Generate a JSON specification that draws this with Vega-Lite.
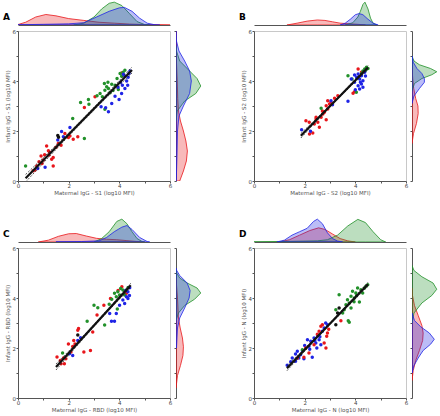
{
"$schema": "https://vega.github.io/schema/vega-lite/v6.json",
"padding": {"left": 3, "top": 1, "right": 0, "bottom": 0},
"autosize": {"type": "pad"},
"datasets": {
"pts": [
{"p":"A","g":"red","x":0.67,"y":0.44},{"p":"A","g":"red","x":0.74,"y":0.60},{"p":"A","g":"red","x":0.83,"y":0.77},{"p":"A","g":"red","x":0.91,"y":1.00},{"p":"A","g":"red","x":1.00,"y":0.84},{"p":"A","g":"red","x":1.13,"y":1.40},{"p":"A","g":"red","x":1.20,"y":1.21},{"p":"A","g":"red","x":1.22,"y":1.04},{"p":"A","g":"red","x":1.33,"y":0.87},{"p":"A","g":"red","x":1.39,"y":0.94},{"p":"A","g":"red","x":1.39,"y":0.60},{"p":"A","g":"red","x":1.59,"y":1.50},{"p":"A","g":"red","x":1.70,"y":1.43},{"p":"A","g":"red","x":1.99,"y":1.74},{"p":"A","g":"red","x":2.18,"y":1.67},{"p":"A","g":"red","x":2.36,"y":1.77},{"p":"A","g":"red","x":2.62,"y":2.94},{"p":"A","g":"red","x":3.04,"y":3.37},{"p":"A","g":"red","x":4.09,"y":4.32},{"p":"A","g":"red","x":0.60,"y":0.41},{"p":"A","g":"red","x":0.95,"y":0.70},{"p":"A","g":"red","x":1.05,"y":1.05},{"p":"A","g":"red","x":1.50,"y":1.35},{"p":"A","g":"red","x":1.85,"y":1.90},{"p":"A","g":"red","x":2.05,"y":1.80},{"p":"A","g":"red","x":1.25,"y":1.15},
{"p":"A","g":"green","x":0.30,"y":0.60},{"p":"A","g":"green","x":2.16,"y":2.50},{"p":"A","g":"green","x":2.62,"y":1.70},{"p":"A","g":"green","x":2.47,"y":3.14},{"p":"A","g":"green","x":2.78,"y":3.26},{"p":"A","g":"green","x":2.80,"y":3.07},{"p":"A","g":"green","x":3.12,"y":3.41},{"p":"A","g":"green","x":3.41,"y":3.90},{"p":"A","g":"green","x":3.50,"y":3.77},{"p":"A","g":"green","x":3.43,"y":3.63},{"p":"A","g":"green","x":3.57,"y":3.70},{"p":"A","g":"green","x":3.70,"y":3.87},{"p":"A","g":"green","x":3.83,"y":3.83},{"p":"A","g":"green","x":3.63,"y":3.53},{"p":"A","g":"green","x":3.24,"y":3.50},{"p":"A","g":"green","x":3.43,"y":2.87},{"p":"A","g":"green","x":3.91,"y":4.10},{"p":"A","g":"green","x":4.03,"y":4.30},{"p":"A","g":"green","x":4.22,"y":4.43},{"p":"A","g":"green","x":4.09,"y":4.19},{"p":"A","g":"green","x":3.33,"y":3.37},{"p":"A","g":"green","x":3.96,"y":3.66},{"p":"A","g":"green","x":3.55,"y":3.95},{"p":"A","g":"green","x":3.75,"y":3.62},{"p":"A","g":"green","x":4.15,"y":4.35},
{"p":"A","g":"blue","x":0.78,"y":0.50},{"p":"A","g":"blue","x":1.07,"y":0.55},{"p":"A","g":"blue","x":1.72,"y":1.98},{"p":"A","g":"blue","x":1.57,"y":1.64},{"p":"A","g":"blue","x":1.79,"y":1.77},{"p":"A","g":"blue","x":2.05,"y":2.14},{"p":"A","g":"blue","x":3.28,"y":2.97},{"p":"A","g":"blue","x":3.46,"y":2.93},{"p":"A","g":"blue","x":3.57,"y":2.77},{"p":"A","g":"blue","x":3.70,"y":3.10},{"p":"A","g":"blue","x":3.83,"y":3.39},{"p":"A","g":"blue","x":3.99,"y":3.26},{"p":"A","g":"blue","x":4.09,"y":3.50},{"p":"A","g":"blue","x":4.22,"y":3.70},{"p":"A","g":"blue","x":4.33,"y":3.83},{"p":"A","g":"blue","x":4.12,"y":3.83},{"p":"A","g":"blue","x":4.29,"y":4.00},{"p":"A","g":"blue","x":4.22,"y":4.19},{"p":"A","g":"blue","x":4.38,"y":4.30},{"p":"A","g":"blue","x":4.42,"y":4.40},{"p":"A","g":"blue","x":4.16,"y":4.27},{"p":"A","g":"blue","x":4.05,"y":3.95},{"p":"A","g":"blue","x":4.35,"y":4.15},{"p":"A","g":"blue","x":3.95,"y":3.75},
{"p":"A","g":"black","x":1.57,"y":1.82},{"p":"A","g":"black","x":1.60,"y":1.75},
{"p":"B","g":"red","x":2.05,"y":2.41},{"p":"B","g":"red","x":2.18,"y":2.35},{"p":"B","g":"red","x":2.32,"y":1.92},{"p":"B","g":"red","x":2.38,"y":2.28},{"p":"B","g":"red","x":2.45,"y":2.48},{"p":"B","g":"red","x":2.52,"y":2.35},{"p":"B","g":"red","x":2.58,"y":2.15},{"p":"B","g":"red","x":2.65,"y":2.55},{"p":"B","g":"red","x":2.72,"y":2.68},{"p":"B","g":"red","x":2.78,"y":2.75},{"p":"B","g":"red","x":2.85,"y":2.45},{"p":"B","g":"red","x":2.91,"y":2.88},{"p":"B","g":"red","x":2.91,"y":3.21},{"p":"B","g":"red","x":2.98,"y":3.08},{"p":"B","g":"red","x":2.85,"y":3.01},{"p":"B","g":"red","x":3.04,"y":3.15},{"p":"B","g":"red","x":3.18,"y":3.31},{"p":"B","g":"red","x":3.91,"y":3.51},{"p":"B","g":"red","x":3.97,"y":3.57},{"p":"B","g":"red","x":4.11,"y":4.48},{"p":"B","g":"red","x":4.24,"y":4.35},{"p":"B","g":"red","x":3.31,"y":3.41},{"p":"B","g":"red","x":2.19,"y":1.88},{"p":"B","g":"red","x":2.45,"y":2.55},{"p":"B","g":"red","x":2.70,"y":2.80},
{"p":"B","g":"green","x":3.71,"y":4.21},{"p":"B","g":"green","x":3.87,"y":4.08},{"p":"B","g":"green","x":4.04,"y":3.55},{"p":"B","g":"green","x":4.30,"y":4.40},{"p":"B","g":"green","x":4.37,"y":4.48},{"p":"B","g":"green","x":4.44,"y":4.55},{"p":"B","g":"green","x":2.65,"y":2.91},{"p":"B","g":"green","x":4.50,"y":4.50},{"p":"B","g":"green","x":4.25,"y":4.30},{"p":"B","g":"green","x":4.40,"y":4.42},
{"p":"B","g":"blue","x":3.97,"y":4.24},{"p":"B","g":"blue","x":4.05,"y":4.15},{"p":"B","g":"blue","x":4.11,"y":4.28},{"p":"B","g":"blue","x":4.17,"y":4.08},{"p":"B","g":"blue","x":4.24,"y":4.21},{"p":"B","g":"blue","x":4.30,"y":4.01},{"p":"B","g":"blue","x":3.97,"y":3.95},{"p":"B","g":"blue","x":4.11,"y":3.81},{"p":"B","g":"blue","x":4.24,"y":3.88},{"p":"B","g":"blue","x":4.30,"y":3.75},{"p":"B","g":"blue","x":4.17,"y":3.68},{"p":"B","g":"blue","x":4.37,"y":4.35},{"p":"B","g":"blue","x":3.84,"y":4.08},{"p":"B","g":"blue","x":3.71,"y":3.19},{"p":"B","g":"blue","x":3.04,"y":3.21},{"p":"B","g":"blue","x":1.88,"y":2.05},{"p":"B","g":"blue","x":2.23,"y":1.99},{"p":"B","g":"blue","x":4.40,"y":4.20},{"p":"B","g":"blue","x":4.00,"y":3.65},{"p":"B","g":"blue","x":3.10,"y":3.05},{"p":"B","g":"blue","x":4.20,"y":3.95},
{"p":"C","g":"red","x":1.54,"y":1.64},{"p":"C","g":"red","x":1.67,"y":1.50},{"p":"C","g":"red","x":1.83,"y":1.37},{"p":"C","g":"red","x":1.89,"y":1.57},{"p":"C","g":"red","x":1.99,"y":2.16},{"p":"C","g":"red","x":2.09,"y":1.84},{"p":"C","g":"red","x":2.16,"y":2.06},{"p":"C","g":"red","x":2.25,"y":2.16},{"p":"C","g":"red","x":2.36,"y":2.71},{"p":"C","g":"red","x":2.39,"y":2.78},{"p":"C","g":"red","x":2.60,"y":1.84},{"p":"C","g":"red","x":2.86,"y":1.90},{"p":"C","g":"red","x":2.95,"y":2.64},{"p":"C","g":"red","x":3.12,"y":3.32},{"p":"C","g":"red","x":3.39,"y":3.71},{"p":"C","g":"red","x":3.65,"y":3.98},{"p":"C","g":"red","x":4.10,"y":4.45},{"p":"C","g":"red","x":4.28,"y":4.19},{"p":"C","g":"red","x":1.70,"y":1.37},{"p":"C","g":"red","x":1.80,"y":1.60},{"p":"C","g":"red","x":2.20,"y":2.30},{"p":"C","g":"red","x":3.95,"y":4.30},
{"p":"C","g":"green","x":1.76,"y":1.80},{"p":"C","g":"green","x":2.73,"y":3.07},{"p":"C","g":"green","x":3.00,"y":3.71},{"p":"C","g":"green","x":3.15,"y":3.61},{"p":"C","g":"green","x":3.42,"y":2.92},{"p":"C","g":"green","x":3.81,"y":4.19},{"p":"C","g":"green","x":3.94,"y":4.25},{"p":"C","g":"green","x":3.88,"y":4.05},{"p":"C","g":"green","x":4.01,"y":4.12},{"p":"C","g":"green","x":4.14,"y":4.32},{"p":"C","g":"green","x":4.21,"y":4.12},{"p":"C","g":"green","x":4.34,"y":4.41},{"p":"C","g":"green","x":3.92,"y":3.56},{"p":"C","g":"green","x":3.70,"y":3.95},{"p":"C","g":"green","x":4.05,"y":4.38},{"p":"C","g":"green","x":3.60,"y":3.75},
{"p":"C","g":"blue","x":2.16,"y":1.70},{"p":"C","g":"blue","x":2.03,"y":1.77},{"p":"C","g":"blue","x":2.36,"y":2.30},{"p":"C","g":"blue","x":2.47,"y":2.41},{"p":"C","g":"blue","x":3.62,"y":3.38},{"p":"C","g":"blue","x":3.69,"y":3.07},{"p":"C","g":"blue","x":3.81,"y":3.07},{"p":"C","g":"blue","x":3.88,"y":3.38},{"p":"C","g":"blue","x":4.01,"y":3.71},{"p":"C","g":"blue","x":4.14,"y":3.92},{"p":"C","g":"blue","x":4.21,"y":3.78},{"p":"C","g":"blue","x":4.28,"y":4.05},{"p":"C","g":"blue","x":4.34,"y":4.25},{"p":"C","g":"blue","x":4.41,"y":4.41},{"p":"C","g":"blue","x":4.34,"y":3.98},{"p":"C","g":"blue","x":4.25,"y":4.30},{"p":"C","g":"blue","x":4.40,"y":4.10},
{"p":"C","g":"black","x":2.36,"y":2.52},
{"p":"D","g":"blue","x":1.31,"y":1.31},{"p":"D","g":"blue","x":1.51,"y":1.60},{"p":"D","g":"blue","x":1.64,"y":1.76},{"p":"D","g":"blue","x":1.71,"y":1.87},{"p":"D","g":"blue","x":1.77,"y":1.60},{"p":"D","g":"blue","x":1.84,"y":1.73},{"p":"D","g":"blue","x":1.91,"y":1.89},{"p":"D","g":"blue","x":1.97,"y":1.57},{"p":"D","g":"blue","x":2.11,"y":2.33},{"p":"D","g":"blue","x":2.17,"y":2.07},{"p":"D","g":"blue","x":2.24,"y":2.27},{"p":"D","g":"blue","x":2.30,"y":1.63},{"p":"D","g":"blue","x":2.37,"y":2.40},{"p":"D","g":"blue","x":2.44,"y":2.20},{"p":"D","g":"blue","x":2.48,"y":2.00},{"p":"D","g":"blue","x":2.51,"y":2.51},{"p":"D","g":"blue","x":2.57,"y":2.33},{"p":"D","g":"blue","x":2.64,"y":2.13},{"p":"D","g":"blue","x":2.70,"y":2.67},{"p":"D","g":"blue","x":2.77,"y":2.80},{"p":"D","g":"blue","x":2.83,"y":3.00},{"p":"D","g":"blue","x":2.90,"y":2.93},{"p":"D","g":"blue","x":1.64,"y":1.47},{"p":"D","g":"blue","x":2.00,"y":2.10},{"p":"D","g":"blue","x":2.40,"y":2.30},{"p":"D","g":"blue","x":2.60,"y":2.45},{"p":"D","g":"blue","x":1.45,"y":1.45},{"p":"D","g":"blue","x":2.20,"y":1.95},
{"p":"D","g":"red","x":1.71,"y":1.60},{"p":"D","g":"red","x":1.97,"y":1.63},{"p":"D","g":"red","x":2.04,"y":2.00},{"p":"D","g":"red","x":2.17,"y":1.80},{"p":"D","g":"red","x":2.37,"y":2.13},{"p":"D","g":"red","x":2.57,"y":2.67},{"p":"D","g":"red","x":2.64,"y":2.87},{"p":"D","g":"red","x":2.77,"y":2.20},{"p":"D","g":"red","x":2.87,"y":2.47},{"p":"D","g":"red","x":2.90,"y":2.60},{"p":"D","g":"red","x":2.70,"y":2.93},{"p":"D","g":"red","x":3.43,"y":3.09},{"p":"D","g":"red","x":2.84,"y":2.00},{"p":"D","g":"red","x":2.50,"y":2.55},{"p":"D","g":"red","x":2.95,"y":2.75},
{"p":"D","g":"green","x":1.91,"y":1.93},{"p":"D","g":"green","x":3.23,"y":3.53},{"p":"D","g":"green","x":3.36,"y":4.13},{"p":"D","g":"green","x":3.50,"y":3.40},{"p":"D","g":"green","x":3.72,"y":3.09},{"p":"D","g":"green","x":3.76,"y":3.03},{"p":"D","g":"green","x":3.63,"y":3.73},{"p":"D","g":"green","x":3.69,"y":3.93},{"p":"D","g":"green","x":3.76,"y":3.80},{"p":"D","g":"green","x":3.83,"y":4.07},{"p":"D","g":"green","x":3.89,"y":4.27},{"p":"D","g":"green","x":3.96,"y":4.00},{"p":"D","g":"green","x":4.02,"y":4.20},{"p":"D","g":"green","x":4.09,"y":4.40},{"p":"D","g":"green","x":4.16,"y":3.84},{"p":"D","g":"green","x":4.22,"y":4.33},{"p":"D","g":"green","x":4.29,"y":4.20},{"p":"D","g":"green","x":4.36,"y":4.40},{"p":"D","g":"green","x":4.42,"y":4.47},{"p":"D","g":"green","x":4.49,"y":4.53},{"p":"D","g":"green","x":3.56,"y":3.53},{"p":"D","g":"green","x":3.83,"y":3.60},{"p":"D","g":"green","x":4.05,"y":4.10},{"p":"D","g":"green","x":3.95,"y":3.85},
{"p":"D","g":"black","x":3.36,"y":3.60},{"p":"D","g":"black","x":3.23,"y":2.93},{"p":"D","g":"black","x":3.30,"y":3.40}
],
"fit": [
{"p":"A","k":"f","x":0.3,"y":0.11},{"p":"A","k":"f","x":4.5,"y":4.44},
{"p":"A","k":"lo","x":0.3,"y":-0.04},{"p":"A","k":"lo","x":1.3,"y":1.05},{"p":"A","k":"lo","x":2.4,"y":2.22},{"p":"A","k":"lo","x":3.5,"y":3.34},{"p":"A","k":"lo","x":4.5,"y":4.32},
{"p":"A","k":"hi","x":0.3,"y":0.26},{"p":"A","k":"hi","x":1.3,"y":1.23},{"p":"A","k":"hi","x":2.4,"y":2.32},{"p":"A","k":"hi","x":3.5,"y":3.48},{"p":"A","k":"hi","x":4.5,"y":4.56},
{"p":"B","k":"f","x":1.85,"y":1.81},{"p":"B","k":"f","x":4.5,"y":4.54},
{"p":"B","k":"lo","x":1.85,"y":1.72},{"p":"B","k":"lo","x":2.5,"y":2.43},{"p":"B","k":"lo","x":3.2,"y":3.17},{"p":"B","k":"lo","x":3.9,"y":3.87},{"p":"B","k":"lo","x":4.5,"y":4.46},
{"p":"B","k":"hi","x":1.85,"y":1.90},{"p":"B","k":"hi","x":2.5,"y":2.53},{"p":"B","k":"hi","x":3.2,"y":3.23},{"p":"B","k":"hi","x":3.9,"y":3.97},{"p":"B","k":"hi","x":4.5,"y":4.62},
{"p":"C","k":"f","x":1.5,"y":1.24},{"p":"C","k":"f","x":4.45,"y":4.51},
{"p":"C","k":"lo","x":1.5,"y":1.12},{"p":"C","k":"lo","x":2.2,"y":1.94},{"p":"C","k":"lo","x":3.0,"y":2.86},{"p":"C","k":"lo","x":3.7,"y":3.63},{"p":"C","k":"lo","x":4.45,"y":4.43},
{"p":"C","k":"hi","x":1.5,"y":1.36},{"p":"C","k":"hi","x":2.2,"y":2.08},{"p":"C","k":"hi","x":3.0,"y":2.94},{"p":"C","k":"hi","x":3.7,"y":3.73},{"p":"C","k":"hi","x":4.45,"y":4.59},
{"p":"D","k":"f","x":1.3,"y":1.19},{"p":"D","k":"f","x":4.5,"y":4.55},
{"p":"D","k":"lo","x":1.3,"y":1.09},{"p":"D","k":"lo","x":2.1,"y":1.98},{"p":"D","k":"lo","x":2.9,"y":2.84},{"p":"D","k":"lo","x":3.7,"y":3.66},{"p":"D","k":"lo","x":4.5,"y":4.47},
{"p":"D","k":"hi","x":1.3,"y":1.29},{"p":"D","k":"hi","x":2.1,"y":2.08},{"p":"D","k":"hi","x":2.9,"y":2.90},{"p":"D","k":"hi","x":3.7,"y":3.76},{"p":"D","k":"hi","x":4.5,"y":4.63}
],
"dens": [
{"p":"A","m":"t","g":"red","v":0,"d":0.02},{"p":"A","m":"t","g":"red","v":0.3,"d":0.12},{"p":"A","m":"t","g":"red","v":0.7,"d":0.35},{"p":"A","m":"t","g":"red","v":1.1,"d":0.46},{"p":"A","m":"t","g":"red","v":1.5,"d":0.40},{"p":"A","m":"t","g":"red","v":2.0,"d":0.28},{"p":"A","m":"t","g":"red","v":2.6,"d":0.20},{"p":"A","m":"t","g":"red","v":3.2,"d":0.12},{"p":"A","m":"t","g":"red","v":3.8,"d":0.08},{"p":"A","m":"t","g":"red","v":4.4,"d":0.04},{"p":"A","m":"t","g":"red","v":5.0,"d":0.02},{"p":"A","m":"t","g":"red","v":5.6,"d":0.01},{"p":"A","m":"t","g":"red","v":6,"d":0},
{"p":"A","m":"t","g":"green","v":2.2,"d":0},{"p":"A","m":"t","g":"green","v":2.6,"d":0.08},{"p":"A","m":"t","g":"green","v":3.0,"d":0.35},{"p":"A","m":"t","g":"green","v":3.3,"d":0.70},{"p":"A","m":"t","g":"green","v":3.6,"d":0.95},{"p":"A","m":"t","g":"green","v":3.8,"d":1.0},{"p":"A","m":"t","g":"green","v":4.1,"d":0.85},{"p":"A","m":"t","g":"green","v":4.4,"d":0.5},{"p":"A","m":"t","g":"green","v":4.7,"d":0.15},{"p":"A","m":"t","g":"green","v":5.0,"d":0.02},{"p":"A","m":"t","g":"green","v":5.2,"d":0},
{"p":"A","m":"t","g":"blue","v":0,"d":0.01},{"p":"A","m":"t","g":"blue","v":1,"d":0.03},{"p":"A","m":"t","g":"blue","v":2,"d":0.05},{"p":"A","m":"t","g":"blue","v":2.6,"d":0.10},{"p":"A","m":"t","g":"blue","v":3.1,"d":0.35},{"p":"A","m":"t","g":"blue","v":3.6,"d":0.6},{"p":"A","m":"t","g":"blue","v":4.0,"d":0.75},{"p":"A","m":"t","g":"blue","v":4.2,"d":0.77},{"p":"A","m":"t","g":"blue","v":4.5,"d":0.6},{"p":"A","m":"t","g":"blue","v":4.8,"d":0.3},{"p":"A","m":"t","g":"blue","v":5.1,"d":0.08},{"p":"A","m":"t","g":"blue","v":5.4,"d":0.01},{"p":"A","m":"t","g":"blue","v":5.6,"d":0},
{"p":"A","m":"r","g":"red","v":0,"d":0.15},{"p":"A","m":"r","g":"red","v":0.4,"d":0.30},{"p":"A","m":"r","g":"red","v":0.8,"d":0.42},{"p":"A","m":"r","g":"red","v":1.2,"d":0.46},{"p":"A","m":"r","g":"red","v":1.6,"d":0.40},{"p":"A","m":"r","g":"red","v":2.0,"d":0.30},{"p":"A","m":"r","g":"red","v":2.4,"d":0.18},{"p":"A","m":"r","g":"red","v":2.8,"d":0.10},{"p":"A","m":"r","g":"red","v":3.3,"d":0.07},{"p":"A","m":"r","g":"red","v":4.0,"d":0.05},{"p":"A","m":"r","g":"red","v":4.5,"d":0.03},{"p":"A","m":"r","g":"red","v":5.0,"d":0.01},{"p":"A","m":"r","g":"red","v":6,"d":0},
{"p":"A","m":"r","g":"green","v":2.4,"d":0},{"p":"A","m":"r","g":"green","v":2.8,"d":0.05},{"p":"A","m":"r","g":"green","v":3.2,"d":0.35},{"p":"A","m":"r","g":"green","v":3.5,"d":0.8},{"p":"A","m":"r","g":"green","v":3.8,"d":1.0},{"p":"A","m":"r","g":"green","v":4.1,"d":0.85},{"p":"A","m":"r","g":"green","v":4.4,"d":0.55},{"p":"A","m":"r","g":"green","v":4.8,"d":0.15},{"p":"A","m":"r","g":"green","v":5.2,"d":0.02},{"p":"A","m":"r","g":"green","v":5.4,"d":0},
{"p":"A","m":"r","g":"blue","v":0,"d":0.01},{"p":"A","m":"r","g":"blue","v":1,"d":0.04},{"p":"A","m":"r","g":"blue","v":2,"d":0.06},{"p":"A","m":"r","g":"blue","v":2.6,"d":0.12},{"p":"A","m":"r","g":"blue","v":3.0,"d":0.30},{"p":"A","m":"r","g":"blue","v":3.5,"d":0.55},{"p":"A","m":"r","g":"blue","v":4.0,"d":0.62},{"p":"A","m":"r","g":"blue","v":4.4,"d":0.55},{"p":"A","m":"r","g":"blue","v":4.8,"d":0.35},{"p":"A","m":"r","g":"blue","v":5.2,"d":0.12},{"p":"A","m":"r","g":"blue","v":5.6,"d":0.02},{"p":"A","m":"r","g":"blue","v":6,"d":0},
{"p":"B","m":"t","g":"red","v":1.3,"d":0},{"p":"B","m":"t","g":"red","v":1.7,"d":0.08},{"p":"B","m":"t","g":"red","v":2.1,"d":0.17},{"p":"B","m":"t","g":"red","v":2.5,"d":0.22},{"p":"B","m":"t","g":"red","v":2.8,"d":0.2},{"p":"B","m":"t","g":"red","v":3.1,"d":0.14},{"p":"B","m":"t","g":"red","v":3.4,"d":0.08},{"p":"B","m":"t","g":"red","v":3.8,"d":0.05},{"p":"B","m":"t","g":"red","v":4.1,"d":0.03},{"p":"B","m":"t","g":"red","v":4.4,"d":0},
{"p":"B","m":"t","g":"green","v":3.6,"d":0},{"p":"B","m":"t","g":"green","v":3.9,"d":0.1},{"p":"B","m":"t","g":"green","v":4.1,"d":0.35},{"p":"B","m":"t","g":"green","v":4.2,"d":0.6},{"p":"B","m":"t","g":"green","v":4.3,"d":0.9},{"p":"B","m":"t","g":"green","v":4.38,"d":1.0},{"p":"B","m":"t","g":"green","v":4.5,"d":0.7},{"p":"B","m":"t","g":"green","v":4.6,"d":0.3},{"p":"B","m":"t","g":"green","v":4.7,"d":0.08},{"p":"B","m":"t","g":"green","v":4.85,"d":0},
{"p":"B","m":"t","g":"blue","v":3.4,"d":0},{"p":"B","m":"t","g":"blue","v":3.6,"d":0.08},{"p":"B","m":"t","g":"blue","v":3.8,"d":0.25},{"p":"B","m":"t","g":"blue","v":4.0,"d":0.45},{"p":"B","m":"t","g":"blue","v":4.15,"d":0.5},{"p":"B","m":"t","g":"blue","v":4.3,"d":0.45},{"p":"B","m":"t","g":"blue","v":4.5,"d":0.25},{"p":"B","m":"t","g":"blue","v":4.7,"d":0.08},{"p":"B","m":"t","g":"blue","v":4.9,"d":0},
{"p":"B","m":"r","g":"red","v":1.5,"d":0},{"p":"B","m":"r","g":"red","v":1.9,"d":0.06},{"p":"B","m":"r","g":"red","v":2.3,"d":0.18},{"p":"B","m":"r","g":"red","v":2.7,"d":0.25},{"p":"B","m":"r","g":"red","v":3.0,"d":0.24},{"p":"B","m":"r","g":"red","v":3.3,"d":0.15},{"p":"B","m":"r","g":"red","v":3.7,"d":0.07},{"p":"B","m":"r","g":"red","v":4.1,"d":0.03},{"p":"B","m":"r","g":"red","v":4.5,"d":0},
{"p":"B","m":"r","g":"green","v":3.6,"d":0},{"p":"B","m":"r","g":"green","v":3.9,"d":0.1},{"p":"B","m":"r","g":"green","v":4.1,"d":0.4},{"p":"B","m":"r","g":"green","v":4.25,"d":0.8},{"p":"B","m":"r","g":"green","v":4.37,"d":1.0},{"p":"B","m":"r","g":"green","v":4.5,"d":0.75},{"p":"B","m":"r","g":"green","v":4.65,"d":0.3},{"p":"B","m":"r","g":"green","v":4.8,"d":0.08},{"p":"B","m":"r","g":"green","v":5.0,"d":0},
{"p":"B","m":"r","g":"blue","v":3.1,"d":0},{"p":"B","m":"r","g":"blue","v":3.4,"d":0.08},{"p":"B","m":"r","g":"blue","v":3.7,"d":0.3},{"p":"B","m":"r","g":"blue","v":3.95,"d":0.5},{"p":"B","m":"r","g":"blue","v":4.1,"d":0.5},{"p":"B","m":"r","g":"blue","v":4.3,"d":0.4},{"p":"B","m":"r","g":"blue","v":4.5,"d":0.2},{"p":"B","m":"r","g":"blue","v":4.75,"d":0.05},{"p":"B","m":"r","g":"blue","v":5.0,"d":0},
{"p":"C","m":"t","g":"red","v":0.8,"d":0},{"p":"C","m":"t","g":"red","v":1.2,"d":0.08},{"p":"C","m":"t","g":"red","v":1.6,"d":0.25},{"p":"C","m":"t","g":"red","v":2.0,"d":0.36},{"p":"C","m":"t","g":"red","v":2.3,"d":0.37},{"p":"C","m":"t","g":"red","v":2.7,"d":0.26},{"p":"C","m":"t","g":"red","v":3.1,"d":0.16},{"p":"C","m":"t","g":"red","v":3.5,"d":0.12},{"p":"C","m":"t","g":"red","v":3.9,"d":0.10},{"p":"C","m":"t","g":"red","v":4.3,"d":0.06},{"p":"C","m":"t","g":"red","v":4.7,"d":0.02},{"p":"C","m":"t","g":"red","v":5.0,"d":0},
{"p":"C","m":"t","g":"green","v":3.0,"d":0},{"p":"C","m":"t","g":"green","v":3.3,"d":0.15},{"p":"C","m":"t","g":"green","v":3.6,"d":0.45},{"p":"C","m":"t","g":"green","v":3.9,"d":0.9},{"p":"C","m":"t","g":"green","v":4.1,"d":1.0},{"p":"C","m":"t","g":"green","v":4.3,"d":0.8},{"p":"C","m":"t","g":"green","v":4.5,"d":0.45},{"p":"C","m":"t","g":"green","v":4.7,"d":0.15},{"p":"C","m":"t","g":"green","v":4.9,"d":0.02},{"p":"C","m":"t","g":"green","v":5.0,"d":0},
{"p":"C","m":"t","g":"blue","v":1.5,"d":0.01},{"p":"C","m":"t","g":"blue","v":2.5,"d":0.02},{"p":"C","m":"t","g":"blue","v":3.2,"d":0.05},{"p":"C","m":"t","g":"blue","v":3.5,"d":0.2},{"p":"C","m":"t","g":"blue","v":3.8,"d":0.45},{"p":"C","m":"t","g":"blue","v":4.1,"d":0.65},{"p":"C","m":"t","g":"blue","v":4.3,"d":0.72},{"p":"C","m":"t","g":"blue","v":4.5,"d":0.55},{"p":"C","m":"t","g":"blue","v":4.8,"d":0.2},{"p":"C","m":"t","g":"blue","v":5.1,"d":0.02},{"p":"C","m":"t","g":"blue","v":5.2,"d":0},
{"p":"C","m":"r","g":"red","v":0.4,"d":0},{"p":"C","m":"r","g":"red","v":0.9,"d":0.06},{"p":"C","m":"r","g":"red","v":1.3,"d":0.18},{"p":"C","m":"r","g":"red","v":1.7,"d":0.28},{"p":"C","m":"r","g":"red","v":2.05,"d":0.30},{"p":"C","m":"r","g":"red","v":2.4,"d":0.26},{"p":"C","m":"r","g":"red","v":2.8,"d":0.17},{"p":"C","m":"r","g":"red","v":3.2,"d":0.10},{"p":"C","m":"r","g":"red","v":3.6,"d":0.08},{"p":"C","m":"r","g":"red","v":4.0,"d":0.06},{"p":"C","m":"r","g":"red","v":4.4,"d":0.03},{"p":"C","m":"r","g":"red","v":4.8,"d":0},
{"p":"C","m":"r","g":"green","v":3.1,"d":0},{"p":"C","m":"r","g":"green","v":3.4,"d":0.1},{"p":"C","m":"r","g":"green","v":3.7,"d":0.35},{"p":"C","m":"r","g":"green","v":3.95,"d":0.75},{"p":"C","m":"r","g":"green","v":4.2,"d":1.0},{"p":"C","m":"r","g":"green","v":4.4,"d":0.85},{"p":"C","m":"r","g":"green","v":4.6,"d":0.45},{"p":"C","m":"r","g":"green","v":4.8,"d":0.15},{"p":"C","m":"r","g":"green","v":5.0,"d":0.03},{"p":"C","m":"r","g":"green","v":5.1,"d":0},
{"p":"C","m":"r","g":"blue","v":2.0,"d":0.02},{"p":"C","m":"r","g":"blue","v":2.8,"d":0.06},{"p":"C","m":"r","g":"blue","v":3.2,"d":0.15},{"p":"C","m":"r","g":"blue","v":3.6,"d":0.35},{"p":"C","m":"r","g":"blue","v":4.0,"d":0.53},{"p":"C","m":"r","g":"blue","v":4.3,"d":0.57},{"p":"C","m":"r","g":"blue","v":4.6,"d":0.45},{"p":"C","m":"r","g":"blue","v":4.9,"d":0.15},{"p":"C","m":"r","g":"blue","v":5.1,"d":0.03},{"p":"C","m":"r","g":"blue","v":5.2,"d":0},
{"p":"D","m":"t","g":"red","v":1.0,"d":0},{"p":"D","m":"t","g":"red","v":1.4,"d":0.1},{"p":"D","m":"t","g":"red","v":1.8,"d":0.3},{"p":"D","m":"t","g":"red","v":2.2,"d":0.5},{"p":"D","m":"t","g":"red","v":2.55,"d":0.62},{"p":"D","m":"t","g":"red","v":2.8,"d":0.55},{"p":"D","m":"t","g":"red","v":3.1,"d":0.35},{"p":"D","m":"t","g":"red","v":3.4,"d":0.15},{"p":"D","m":"t","g":"red","v":3.7,"d":0.05},{"p":"D","m":"t","g":"red","v":4.0,"d":0},
{"p":"D","m":"t","g":"green","v":0,"d":0.01},{"p":"D","m":"t","g":"green","v":1.5,"d":0.03},{"p":"D","m":"t","g":"green","v":2.5,"d":0.05},{"p":"D","m":"t","g":"green","v":2.9,"d":0.1},{"p":"D","m":"t","g":"green","v":3.3,"d":0.3},{"p":"D","m":"t","g":"green","v":3.7,"d":0.7},{"p":"D","m":"t","g":"green","v":4.1,"d":0.99},{"p":"D","m":"t","g":"green","v":4.4,"d":0.85},{"p":"D","m":"t","g":"green","v":4.7,"d":0.45},{"p":"D","m":"t","g":"green","v":5.0,"d":0.1},{"p":"D","m":"t","g":"green","v":5.2,"d":0},
{"p":"D","m":"t","g":"blue","v":0.9,"d":0},{"p":"D","m":"t","g":"blue","v":1.2,"d":0.08},{"p":"D","m":"t","g":"blue","v":1.5,"d":0.3},{"p":"D","m":"t","g":"blue","v":1.8,"d":0.45},{"p":"D","m":"t","g":"blue","v":2.1,"d":0.6},{"p":"D","m":"t","g":"blue","v":2.35,"d":0.9},{"p":"D","m":"t","g":"blue","v":2.5,"d":1.0},{"p":"D","m":"t","g":"blue","v":2.7,"d":0.8},{"p":"D","m":"t","g":"blue","v":2.9,"d":0.4},{"p":"D","m":"t","g":"blue","v":3.1,"d":0.15},{"p":"D","m":"t","g":"blue","v":3.3,"d":0.04},{"p":"D","m":"t","g":"blue","v":3.5,"d":0},
{"p":"D","m":"r","g":"red","v":0.7,"d":0},{"p":"D","m":"r","g":"red","v":1.1,"d":0.05},{"p":"D","m":"r","g":"red","v":1.5,"d":0.15},{"p":"D","m":"r","g":"red","v":1.9,"d":0.3},{"p":"D","m":"r","g":"red","v":2.3,"d":0.43},{"p":"D","m":"r","g":"red","v":2.6,"d":0.45},{"p":"D","m":"r","g":"red","v":2.9,"d":0.4},{"p":"D","m":"r","g":"red","v":3.3,"d":0.25},{"p":"D","m":"r","g":"red","v":3.7,"d":0.1},{"p":"D","m":"r","g":"red","v":4.1,"d":0.02},{"p":"D","m":"r","g":"red","v":4.4,"d":0},
{"p":"D","m":"r","g":"green","v":3.0,"d":0},{"p":"D","m":"r","g":"green","v":3.4,"d":0.08},{"p":"D","m":"r","g":"green","v":3.8,"d":0.4},{"p":"D","m":"r","g":"green","v":4.1,"d":0.8},{"p":"D","m":"r","g":"green","v":4.35,"d":1.0},{"p":"D","m":"r","g":"green","v":4.6,"d":0.85},{"p":"D","m":"r","g":"green","v":4.85,"d":0.4},{"p":"D","m":"r","g":"green","v":5.1,"d":0.08},{"p":"D","m":"r","g":"green","v":5.3,"d":0},
{"p":"D","m":"r","g":"blue","v":1.0,"d":0},{"p":"D","m":"r","g":"blue","v":1.3,"d":0.08},{"p":"D","m":"r","g":"blue","v":1.6,"d":0.25},{"p":"D","m":"r","g":"blue","v":1.9,"d":0.45},{"p":"D","m":"r","g":"blue","v":2.15,"d":0.75},{"p":"D","m":"r","g":"blue","v":2.35,"d":0.9},{"p":"D","m":"r","g":"blue","v":2.6,"d":0.7},{"p":"D","m":"r","g":"blue","v":2.85,"d":0.35},{"p":"D","m":"r","g":"blue","v":3.1,"d":0.1},{"p":"D","m":"r","g":"blue","v":3.4,"d":0}
]
},
"columns": 2,
"spacing": {"row": 21, "column": 37},
"concat": [
{"columns": 2, "align": "each", "spacing": {"row": 3, "column": 0}, "concat": [
 {"width": 152, "height": 24, "data": {"name": "dens"}, "transform": [{"filter": "datum.p === 'A' && datum.m === 't'"}],
  "title": {"text": "A", "anchor": "start", "frame": "group", "dx": -15, "dy": 21, "offset": 0, "fontSize": 9, "fontWeight": "bold", "color": "#000"},
  "mark": {"type": "area", "fillOpacity": 0.3, "strokeWidth": 0.8, "clip": true},
  "encoding": {"x": {"field": "v", "type": "quantitative", "scale": {"domain": [0, 6], "nice": false}, "axis": {"title": null, "labels": false, "ticks": false}},
   "y": {"field": "d", "type": "quantitative", "stack": null, "scale": {"domain": [0, 1.05]}, "axis": null},
   "color": {"field": "g", "type": "nominal", "scale": {"domain": ["red", "green", "blue", "black"], "range": ["#e8161b", "#22912a", "#1f24e6", "#111111"]}, "legend": null},
   "stroke": {"field": "g", "type": "nominal", "scale": {"domain": ["red", "green", "blue", "black"], "range": ["#e8161b", "#22912a", "#1f24e6", "#111111"]}, "legend": null}}},
 {"width": 26, "height": 24, "data": {"values": [{"a": 1}]}, "mark": {"type": "point", "opacity": 0}},
 {"width": 152, "height": 150, "view": {"stroke": "#c8c8c8"},
  "encoding": {"x": {"field": "x", "type": "quantitative", "scale": {"domain": [0, 6], "nice": false}, "axis": {"title": "Maternal IgG - S1 (log10 MFI)", "values": [0, 1, 2, 3, 4, 5, 6], "labelExpr": "datum.value % 2 === 0 ? datum.label : ''", "labelFlush": false}},
   "y": {"field": "y", "type": "quantitative", "scale": {"domain": [0, 6], "nice": false}, "axis": {"title": "Infant IgG - S1 (log10 MFI)", "values": [0, 1, 2, 3, 4, 5, 6], "labelExpr": "datum.value % 2 === 0 ? datum.label : ''", "labelFlush": false}}},
  "layer": [
   {"data": {"name": "pts"}, "transform": [{"filter": "datum.p === 'A'"}], "mark": {"type": "circle", "size": 12, "opacity": 1},
    "encoding": {"color": {"field": "g", "type": "nominal", "scale": {"domain": ["red", "green", "blue", "black"], "range": ["#e8161b", "#22912a", "#1f24e6", "#111111"]}, "legend": null}}},
   {"data": {"name": "fit"}, "transform": [{"filter": "datum.p === 'A' && datum.k === 'f'"}], "mark": {"type": "line", "color": "#111", "strokeWidth": 2.2, "clip": true}, "encoding": {}},
   {"data": {"name": "fit"}, "transform": [{"filter": "datum.p === 'A' && datum.k !== 'f'"}], "mark": {"type": "line", "color": "#111", "strokeWidth": 0.7, "strokeDash": [2, 1.5], "clip": true}, "encoding": {"detail": {"field": "k"}}}
  ]},
 {"width": 26, "height": 150, "data": {"name": "dens"}, "transform": [{"filter": "datum.p === 'A' && datum.m === 'r'"}],
  "mark": {"type": "area", "orient": "horizontal", "fillOpacity": 0.3, "strokeWidth": 0.8, "clip": true},
  "encoding": {"y": {"field": "v", "type": "quantitative", "scale": {"domain": [0, 6], "nice": false}, "axis": {"title": null, "labels": false, "values": [0, 1, 2, 3, 4, 5, 6]}},
   "x": {"field": "d", "type": "quantitative", "stack": null, "scale": {"domain": [0, 1.05]}, "axis": null},
   "color": {"field": "g", "type": "nominal", "scale": {"domain": ["red", "green", "blue", "black"], "range": ["#e8161b", "#22912a", "#1f24e6", "#111111"]}, "legend": null},
   "stroke": {"field": "g", "type": "nominal", "scale": {"domain": ["red", "green", "blue", "black"], "range": ["#e8161b", "#22912a", "#1f24e6", "#111111"]}, "legend": null}}}
]},
{"columns": 2, "align": "each", "spacing": {"row": 3, "column": 0}, "concat": [
 {"width": 152, "height": 24, "data": {"name": "dens"}, "transform": [{"filter": "datum.p === 'B' && datum.m === 't'"}],
  "title": {"text": "B", "anchor": "start", "frame": "group", "dx": -15, "dy": 21, "offset": 0, "fontSize": 9, "fontWeight": "bold", "color": "#000"},
  "mark": {"type": "area", "fillOpacity": 0.3, "strokeWidth": 0.8, "clip": true},
  "encoding": {"x": {"field": "v", "type": "quantitative", "scale": {"domain": [0, 6], "nice": false}, "axis": {"title": null, "labels": false, "ticks": false}},
   "y": {"field": "d", "type": "quantitative", "stack": null, "scale": {"domain": [0, 1.05]}, "axis": null},
   "color": {"field": "g", "type": "nominal", "scale": {"domain": ["red", "green", "blue", "black"], "range": ["#e8161b", "#22912a", "#1f24e6", "#111111"]}, "legend": null},
   "stroke": {"field": "g", "type": "nominal", "scale": {"domain": ["red", "green", "blue", "black"], "range": ["#e8161b", "#22912a", "#1f24e6", "#111111"]}, "legend": null}}},
 {"width": 26, "height": 24, "data": {"values": [{"a": 1}]}, "mark": {"type": "point", "opacity": 0}},
 {"width": 152, "height": 150, "view": {"stroke": "#c8c8c8"},
  "encoding": {"x": {"field": "x", "type": "quantitative", "scale": {"domain": [0, 6], "nice": false}, "axis": {"title": "Maternal IgG - S2 (log10 MFI)", "values": [0, 1, 2, 3, 4, 5, 6], "labelExpr": "datum.value % 2 === 0 ? datum.label : ''", "labelFlush": false}},
   "y": {"field": "y", "type": "quantitative", "scale": {"domain": [0, 6], "nice": false}, "axis": {"title": "Infant IgG - S2 (log10 MFI)", "values": [0, 1, 2, 3, 4, 5, 6], "labelExpr": "datum.value % 2 === 0 ? datum.label : ''", "labelFlush": false}}},
  "layer": [
   {"data": {"name": "pts"}, "transform": [{"filter": "datum.p === 'B'"}], "mark": {"type": "circle", "size": 12, "opacity": 1},
    "encoding": {"color": {"field": "g", "type": "nominal", "scale": {"domain": ["red", "green", "blue", "black"], "range": ["#e8161b", "#22912a", "#1f24e6", "#111111"]}, "legend": null}}},
   {"data": {"name": "fit"}, "transform": [{"filter": "datum.p === 'B' && datum.k === 'f'"}], "mark": {"type": "line", "color": "#111", "strokeWidth": 2.2, "clip": true}, "encoding": {}},
   {"data": {"name": "fit"}, "transform": [{"filter": "datum.p === 'B' && datum.k !== 'f'"}], "mark": {"type": "line", "color": "#111", "strokeWidth": 0.7, "strokeDash": [2, 1.5], "clip": true}, "encoding": {"detail": {"field": "k"}}}
  ]},
 {"width": 26, "height": 150, "data": {"name": "dens"}, "transform": [{"filter": "datum.p === 'B' && datum.m === 'r'"}],
  "mark": {"type": "area", "orient": "horizontal", "fillOpacity": 0.3, "strokeWidth": 0.8, "clip": true},
  "encoding": {"y": {"field": "v", "type": "quantitative", "scale": {"domain": [0, 6], "nice": false}, "axis": {"title": null, "labels": false, "values": [0, 1, 2, 3, 4, 5, 6]}},
   "x": {"field": "d", "type": "quantitative", "stack": null, "scale": {"domain": [0, 1.05]}, "axis": null},
   "color": {"field": "g", "type": "nominal", "scale": {"domain": ["red", "green", "blue", "black"], "range": ["#e8161b", "#22912a", "#1f24e6", "#111111"]}, "legend": null},
   "stroke": {"field": "g", "type": "nominal", "scale": {"domain": ["red", "green", "blue", "black"], "range": ["#e8161b", "#22912a", "#1f24e6", "#111111"]}, "legend": null}}}
]},
{"columns": 2, "align": "each", "spacing": {"row": 3, "column": 0}, "concat": [
 {"width": 152, "height": 24, "data": {"name": "dens"}, "transform": [{"filter": "datum.p === 'C' && datum.m === 't'"}],
  "title": {"text": "C", "anchor": "start", "frame": "group", "dx": -15, "dy": 21, "offset": 0, "fontSize": 9, "fontWeight": "bold", "color": "#000"},
  "mark": {"type": "area", "fillOpacity": 0.3, "strokeWidth": 0.8, "clip": true},
  "encoding": {"x": {"field": "v", "type": "quantitative", "scale": {"domain": [0, 6], "nice": false}, "axis": {"title": null, "labels": false, "ticks": false}},
   "y": {"field": "d", "type": "quantitative", "stack": null, "scale": {"domain": [0, 1.05]}, "axis": null},
   "color": {"field": "g", "type": "nominal", "scale": {"domain": ["red", "green", "blue", "black"], "range": ["#e8161b", "#22912a", "#1f24e6", "#111111"]}, "legend": null},
   "stroke": {"field": "g", "type": "nominal", "scale": {"domain": ["red", "green", "blue", "black"], "range": ["#e8161b", "#22912a", "#1f24e6", "#111111"]}, "legend": null}}},
 {"width": 26, "height": 24, "data": {"values": [{"a": 1}]}, "mark": {"type": "point", "opacity": 0}},
 {"width": 152, "height": 150, "view": {"stroke": "#c8c8c8"},
  "encoding": {"x": {"field": "x", "type": "quantitative", "scale": {"domain": [0, 6], "nice": false}, "axis": {"title": "Maternal IgG - RBD (log10 MFI)", "values": [0, 1, 2, 3, 4, 5, 6], "labelExpr": "datum.value % 2 === 0 ? datum.label : ''", "labelFlush": false}},
   "y": {"field": "y", "type": "quantitative", "scale": {"domain": [0, 6], "nice": false}, "axis": {"title": "Infant IgG - RBD (log10 MFI)", "values": [0, 1, 2, 3, 4, 5, 6], "labelExpr": "datum.value % 2 === 0 ? datum.label : ''", "labelFlush": false}}},
  "layer": [
   {"data": {"name": "pts"}, "transform": [{"filter": "datum.p === 'C'"}], "mark": {"type": "circle", "size": 12, "opacity": 1},
    "encoding": {"color": {"field": "g", "type": "nominal", "scale": {"domain": ["red", "green", "blue", "black"], "range": ["#e8161b", "#22912a", "#1f24e6", "#111111"]}, "legend": null}}},
   {"data": {"name": "fit"}, "transform": [{"filter": "datum.p === 'C' && datum.k === 'f'"}], "mark": {"type": "line", "color": "#111", "strokeWidth": 2.2, "clip": true}, "encoding": {}},
   {"data": {"name": "fit"}, "transform": [{"filter": "datum.p === 'C' && datum.k !== 'f'"}], "mark": {"type": "line", "color": "#111", "strokeWidth": 0.7, "strokeDash": [2, 1.5], "clip": true}, "encoding": {"detail": {"field": "k"}}}
  ]},
 {"width": 26, "height": 150, "data": {"name": "dens"}, "transform": [{"filter": "datum.p === 'C' && datum.m === 'r'"}],
  "mark": {"type": "area", "orient": "horizontal", "fillOpacity": 0.3, "strokeWidth": 0.8, "clip": true},
  "encoding": {"y": {"field": "v", "type": "quantitative", "scale": {"domain": [0, 6], "nice": false}, "axis": {"title": null, "labels": false, "values": [0, 1, 2, 3, 4, 5, 6]}},
   "x": {"field": "d", "type": "quantitative", "stack": null, "scale": {"domain": [0, 1.05]}, "axis": null},
   "color": {"field": "g", "type": "nominal", "scale": {"domain": ["red", "green", "blue", "black"], "range": ["#e8161b", "#22912a", "#1f24e6", "#111111"]}, "legend": null},
   "stroke": {"field": "g", "type": "nominal", "scale": {"domain": ["red", "green", "blue", "black"], "range": ["#e8161b", "#22912a", "#1f24e6", "#111111"]}, "legend": null}}}
]},
{"columns": 2, "align": "each", "spacing": {"row": 3, "column": 0}, "concat": [
 {"width": 152, "height": 24, "data": {"name": "dens"}, "transform": [{"filter": "datum.p === 'D' && datum.m === 't'"}],
  "title": {"text": "D", "anchor": "start", "frame": "group", "dx": -15, "dy": 21, "offset": 0, "fontSize": 9, "fontWeight": "bold", "color": "#000"},
  "mark": {"type": "area", "fillOpacity": 0.3, "strokeWidth": 0.8, "clip": true},
  "encoding": {"x": {"field": "v", "type": "quantitative", "scale": {"domain": [0, 6], "nice": false}, "axis": {"title": null, "labels": false, "ticks": false}},
   "y": {"field": "d", "type": "quantitative", "stack": null, "scale": {"domain": [0, 1.05]}, "axis": null},
   "color": {"field": "g", "type": "nominal", "scale": {"domain": ["red", "green", "blue", "black"], "range": ["#e8161b", "#22912a", "#1f24e6", "#111111"]}, "legend": null},
   "stroke": {"field": "g", "type": "nominal", "scale": {"domain": ["red", "green", "blue", "black"], "range": ["#e8161b", "#22912a", "#1f24e6", "#111111"]}, "legend": null}}},
 {"width": 26, "height": 24, "data": {"values": [{"a": 1}]}, "mark": {"type": "point", "opacity": 0}},
 {"width": 152, "height": 150, "view": {"stroke": "#c8c8c8"},
  "encoding": {"x": {"field": "x", "type": "quantitative", "scale": {"domain": [0, 6], "nice": false}, "axis": {"title": "Maternal IgG - N (log10 MFI)", "values": [0, 1, 2, 3, 4, 5, 6], "labelExpr": "datum.value % 2 === 0 ? datum.label : ''", "labelFlush": false}},
   "y": {"field": "y", "type": "quantitative", "scale": {"domain": [0, 6], "nice": false}, "axis": {"title": "Infant IgG - N (log10 MFI)", "values": [0, 1, 2, 3, 4, 5, 6], "labelExpr": "datum.value % 2 === 0 ? datum.label : ''", "labelFlush": false}}},
  "layer": [
   {"data": {"name": "pts"}, "transform": [{"filter": "datum.p === 'D'"}], "mark": {"type": "circle", "size": 12, "opacity": 1},
    "encoding": {"color": {"field": "g", "type": "nominal", "scale": {"domain": ["red", "green", "blue", "black"], "range": ["#e8161b", "#22912a", "#1f24e6", "#111111"]}, "legend": null}}},
   {"data": {"name": "fit"}, "transform": [{"filter": "datum.p === 'D' && datum.k === 'f'"}], "mark": {"type": "line", "color": "#111", "strokeWidth": 2.2, "clip": true}, "encoding": {}},
   {"data": {"name": "fit"}, "transform": [{"filter": "datum.p === 'D' && datum.k !== 'f'"}], "mark": {"type": "line", "color": "#111", "strokeWidth": 0.7, "strokeDash": [2, 1.5], "clip": true}, "encoding": {"detail": {"field": "k"}}}
  ]},
 {"width": 26, "height": 150, "data": {"name": "dens"}, "transform": [{"filter": "datum.p === 'D' && datum.m === 'r'"}],
  "mark": {"type": "area", "orient": "horizontal", "fillOpacity": 0.3, "strokeWidth": 0.8, "clip": true},
  "encoding": {"y": {"field": "v", "type": "quantitative", "scale": {"domain": [0, 6], "nice": false}, "axis": {"title": null, "labels": false, "values": [0, 1, 2, 3, 4, 5, 6]}},
   "x": {"field": "d", "type": "quantitative", "stack": null, "scale": {"domain": [0, 1.05]}, "axis": null},
   "color": {"field": "g", "type": "nominal", "scale": {"domain": ["red", "green", "blue", "black"], "range": ["#e8161b", "#22912a", "#1f24e6", "#111111"]}, "legend": null},
   "stroke": {"field": "g", "type": "nominal", "scale": {"domain": ["red", "green", "blue", "black"], "range": ["#e8161b", "#22912a", "#1f24e6", "#111111"]}, "legend": null}}}
]}
],
"config": {
 "font": "DejaVu Sans",
 "view": {"stroke": null},
 "axis": {"grid": false, "labelFontSize": 5.5, "titleFontSize": 5.5, "titleFontWeight": "normal", "labelColor": "#444", "titleColor": "#555", "domainColor": "#555", "tickColor": "#555", "tickSize": 2, "labelPadding": 0.5, "titlePadding": 1.5, "domainWidth": 1}
}
}
